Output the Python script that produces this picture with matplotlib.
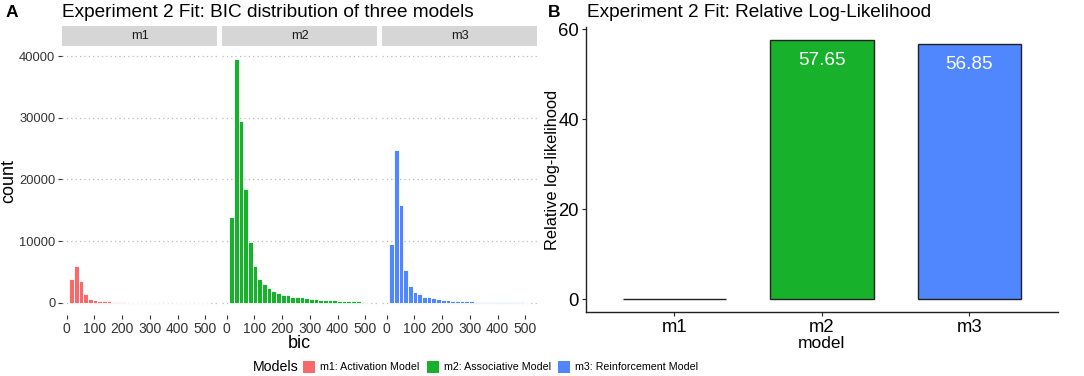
import numpy as np
import matplotlib
matplotlib.use("Agg")
import matplotlib.pyplot as plt
from matplotlib.patches import Rectangle

plt.rcParams['font.family'] = ['Liberation Sans', 'DejaVu Sans']

# ---------------- data ----------------
models = ["m1", "m2", "m3"]
legend_labels = ["m1: Activation Model", "m2: Associative Model", "m3: Reinforcement Model"]
colors = ["#F8696B", "#17B12B", "#5087FF"]

# histogram bin centres (bic), 30 bins
bin_centers = [17.9, 34.8, 51.7, 68.6, 85.5, 102.4, 119.3, 136.2, 153.1, 170.0,
               186.9, 203.8, 220.7, 237.6, 254.5, 271.4, 288.3, 305.2, 322.1, 339.0,
               355.9, 372.8, 389.7, 406.6, 423.5, 440.4, 457.3, 474.2, 491.1, 508.0]
bin_width = 16.9

counts_m1 = [3800, 6000, 3600, 1500, 600, 450, 350, 280, 230, 170,
             120, 80, 50, 30, 20, 10, 0, 0, 0, 0,
             0, 0, 0, 0, 0, 0, 0, 0, 0, 0]
counts_m2 = [13900, 39500, 29500, 18500, 9900, 6000, 3900, 3000, 2450, 1850,
             1650, 1250, 1200, 950, 950, 900, 750, 650, 560, 500,
             450, 400, 380, 340, 300, 280, 250, 220, 180, 0]
counts_m3 = [9600, 24700, 15900, 5300, 2700, 1750, 1400, 950, 980, 760,
             600, 450, 440, 340, 300, 270, 240, 220, 200, 190,
             180, 170, 160, 150, 140, 130, 120, 110, 100, 0]
hist_counts = [counts_m1, counts_m2, counts_m3]

rel_loglik = [0.0, 57.65, 56.85]
rel_labels = ["", "57.65", "56.85"]

# ---------------- figure ----------------
W, H = 1084, 376
fig = plt.figure(figsize=(W / 100, H / 100), dpi=100)

def fx(px):
    return px / W

def fy(py):
    return 1 - py / H

# Panel A facets
facet_left = [62.3, 222.3, 382.3]
facet_w = 154.6
panel_top, panel_bot = 47.0, 315.0
strip_top, strip_bot = 26.5, 46.0

ymax = max(max(c) for c in hist_counts)
ypad = 0.05 * ymax
edge_lo = bin_centers[0] - bin_width / 2
edge_hi = bin_centers[-1] + bin_width / 2
xpad = 0.05 * (edge_hi - edge_lo)

for i, (m, cnt, col) in enumerate(zip(models, hist_counts, colors)):
    ax = fig.add_axes([fx(facet_left[i]), fy(panel_bot), fx(facet_w), (panel_bot - panel_top) / H])
    ax.bar(bin_centers, cnt, width=bin_width, color=col, edgecolor="white", linewidth=0.6, zorder=3)
    ax.set_xlim(edge_lo - xpad, edge_hi + xpad)
    ax.set_ylim(-ypad, ymax + ypad)
    ax.set_yticks([0, 10000, 20000, 30000, 40000])
    ax.set_xticks([0, 100, 200, 300, 400, 500])
    ax.grid(axis="y", linestyle=(0, (1, 2.5)), color="#BDBDBD", linewidth=0.9, zorder=0)
    for s in ax.spines.values():
        s.set_visible(False)
    ax.tick_params(axis="x", length=3, color="#333333", labelsize=10, labelcolor="#333333", pad=2)
    if i == 0:
        ax.tick_params(axis="y", length=3, color="#333333", labelsize=9.3, labelcolor="#333333", pad=2)
        ax.set_ylabel("count", fontsize=13)
        ax.yaxis.set_label_coords(-0.29, 0.5)
    else:
        ax.tick_params(axis="y", length=0, labelleft=False)
    # strip
    fig.patches.append(Rectangle((fx(facet_left[i]), fy(strip_bot)), fx(facet_w),
                                 (strip_bot - strip_top) / H, transform=fig.transFigure,
                                 facecolor="#D6D6D6", edgecolor="none"))
    fig.text(fx(facet_left[i] + facet_w / 2), fy((strip_top + strip_bot) / 2), m,
             ha="center", va="center", fontsize=9.2, color="#1A1A1A")

fig.text(fx(299.6), fy(343), "bic", ha="center", va="center", fontsize=13)
fig.text(fx(62), fy(12.5), "Experiment 2 Fit: BIC distribution of three models",
         ha="left", va="center", fontsize=13.7)
fig.text(fx(6), fy(12.5), "A", ha="left", va="center", fontsize=12.5, fontweight="bold")

# Panel B
axb = fig.add_axes([fx(585.7), fy(312), fx(1058 - 585.7), (312 - 27) / H])
xpos = np.arange(1, len(models) + 1)
axb.bar(xpos, rel_loglik, width=0.7, color=colors, edgecolor="#222222", linewidth=1.0, zorder=3)
for x, v, lab in zip(xpos, rel_loglik, rel_labels):
    if lab:
        axb.annotate(lab, (x, v), xytext=(0, -15), textcoords="offset points",
                     ha="center", va="center", color="white", fontsize=13.6)
axb.set_xlim(0.4, 3.6)
bmax = max(rel_loglik)
axb.set_ylim(-0.05 * bmax, bmax * 1.05)
axb.set_yticks([0, 20, 40, 60])
axb.set_xticks(xpos)
axb.set_xticklabels(models)
axb.spines["top"].set_visible(False)
axb.spines["right"].set_visible(False)
for s in ("left", "bottom"):
    axb.spines[s].set_color("#222222")
    axb.spines[s].set_linewidth(1.0)
axb.tick_params(axis="both", labelsize=13.3, length=3, color="#222222", labelcolor="black", pad=2)
axb.set_xlabel("model", fontsize=12.5, labelpad=0)
axb.set_ylabel("Relative log-likelihood", fontsize=11.8)
axb.yaxis.set_label_coords(-0.054, 0.5)
fig.text(fx(587), fy(12.5), "Experiment 2 Fit: Relative Log-Likelihood",
         ha="left", va="center", fontsize=13.7)
fig.text(fx(548), fy(12.5), "B", ha="left", va="center", fontsize=12.5, fontweight="bold")

# Legend (bottom)
fig.text(fx(253), fy(367), "Models", ha="left", va="center", fontsize=10.2)
key_x = [303, 427, 558]
for kx, c, lab in zip(key_x, colors, legend_labels):
    fig.patches.append(Rectangle((fx(kx), fy(373)), fx(12), 12 / H,
                                 transform=fig.transFigure, facecolor=c, edgecolor="none"))
    fig.text(fx(kx + 17), fy(367), lab, ha="left", va="center", fontsize=7.7)

fig.savefig("out.png", dpi=100)
